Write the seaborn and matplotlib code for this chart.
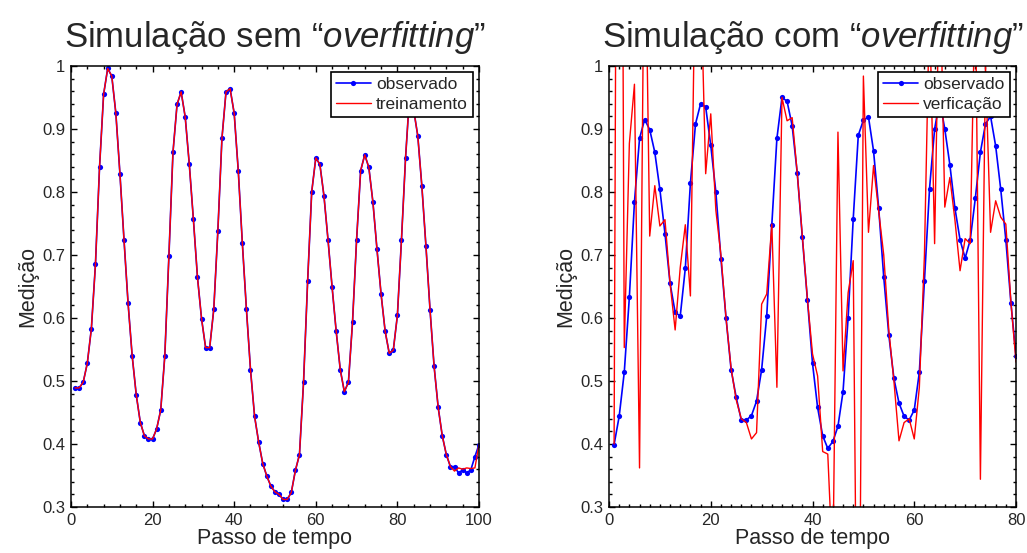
import matplotlib
matplotlib.use("Agg")
import matplotlib.pyplot as plt
import seaborn as sns
from matplotlib.ticker import MultipleLocator, FuncFormatter

# ---------------- data ----------------
passo_esq = list(range(1, 101))
observado_esq = [
    0.489, 0.489, 0.498, 0.528, 0.583, 0.685, 0.839, 0.955, 0.996, 0.984,
    0.925, 0.829, 0.724, 0.623, 0.540, 0.478, 0.434, 0.413, 0.408, 0.408,
    0.424, 0.454, 0.540, 0.698, 0.863, 0.939, 0.959, 0.919, 0.844, 0.757,
    0.665, 0.599, 0.553, 0.553, 0.614, 0.738, 0.885, 0.959, 0.964, 0.925,
    0.834, 0.719, 0.614, 0.518, 0.444, 0.403, 0.369, 0.349, 0.333, 0.324,
    0.320, 0.312, 0.312, 0.323, 0.358, 0.383, 0.498, 0.658, 0.800, 0.854,
    0.844, 0.794, 0.724, 0.649, 0.579, 0.518, 0.483, 0.498, 0.593, 0.724,
    0.834, 0.859, 0.839, 0.784, 0.709, 0.638, 0.579, 0.544, 0.549, 0.604,
    0.724, 0.854, 0.955, 0.930, 0.889, 0.809, 0.714, 0.613, 0.523, 0.458,
    0.413, 0.383, 0.364, 0.364, 0.354, 0.359, 0.354, 0.359, 0.380, 0.399,
]
treinamento = [
    0.489, 0.489, 0.498, 0.528, 0.583, 0.685, 0.839, 0.955, 0.996, 0.984,
    0.925, 0.829, 0.724, 0.623, 0.540, 0.478, 0.434, 0.413, 0.408, 0.408,
    0.424, 0.454, 0.540, 0.698, 0.863, 0.939, 0.959, 0.919, 0.844, 0.757,
    0.665, 0.599, 0.553, 0.553, 0.614, 0.738, 0.885, 0.959, 0.964, 0.925,
    0.834, 0.719, 0.614, 0.518, 0.444, 0.403, 0.369, 0.349, 0.333, 0.324,
    0.320, 0.312, 0.312, 0.323, 0.358, 0.383, 0.498, 0.658, 0.800, 0.854,
    0.844, 0.794, 0.724, 0.649, 0.579, 0.518, 0.483, 0.498, 0.593, 0.724,
    0.834, 0.859, 0.839, 0.784, 0.709, 0.638, 0.579, 0.544, 0.549, 0.604,
    0.724, 0.854, 0.955, 0.930, 0.889, 0.809, 0.714, 0.613, 0.523, 0.458,
    0.413, 0.383, 0.364, 0.357, 0.362, 0.360, 0.362, 0.361, 0.362, 0.399,
]

passo_dir = list(range(1, 81))
observado_dir = [
    0.399, 0.444, 0.514, 0.633, 0.784, 0.885, 0.915, 0.899, 0.863, 0.804,
    0.734, 0.655, 0.609, 0.603, 0.679, 0.814, 0.908, 0.940, 0.935, 0.874,
    0.800, 0.694, 0.600, 0.518, 0.474, 0.438, 0.438, 0.445, 0.468, 0.518,
    0.603, 0.748, 0.885, 0.950, 0.944, 0.905, 0.830, 0.728, 0.629, 0.528,
    0.458, 0.413, 0.393, 0.404, 0.428, 0.483, 0.600, 0.757, 0.890, 0.914,
    0.919, 0.865, 0.775, 0.665, 0.573, 0.504, 0.465, 0.444, 0.438, 0.454,
    0.514, 0.659, 0.805, 0.900, 0.945, 0.900, 0.843, 0.774, 0.724, 0.695,
    0.724, 0.790, 0.863, 0.908, 0.920, 0.873, 0.804, 0.724, 0.624, 0.539,
]
verificacao = [
    0.400, 2.500, 0.553, 0.877, 0.971, 0.362, 1.300, 0.730, 0.810, 0.746,
    0.756, 0.655, 0.581, 0.680, 0.748, 0.635, 1.200, 1.150, 0.829, 0.924,
    0.771, 0.700, 0.600, 0.520, 0.470, 0.440, 0.434, 0.408, 0.418, 0.622,
    0.638, 0.749, 0.490, 0.950, 0.913, 0.918, 0.830, 0.730, 0.630, 0.543,
    0.508, 0.388, 0.384, 0.200, 0.895, 0.516, 0.640, 0.691, -0.200, 0.984,
    0.736, 0.842, 0.770, 0.700, 0.580, 0.500, 0.405, 0.434, 0.440, 0.408,
    0.490, 0.700, 1.100, 0.718, 1.180, 0.776, 0.823, 0.755, 0.675, 0.726,
    0.718, 1.140, 0.344, 1.000, 0.736, 0.786, 0.760, 0.749, 0.625, 0.530,
]

titulos = ["Simulação sem “$\\mathit{overfitting}$”",
           "Simulação com “$\\mathit{overfitting}$”"]
rotulo_x = "Passo de tempo"
rotulo_y = "Medição"

# ---------------- style ----------------
sns.set_theme(style="ticks")
plt.rcParams["font.family"] = ["Liberation Sans", "DejaVu Sans"]
plt.rcParams["mathtext.fontset"] = "custom"
plt.rcParams["mathtext.rm"] = "Liberation Sans"
plt.rcParams["mathtext.it"] = "Liberation Sans:italic"
plt.rcParams["axes.linewidth"] = 1.1

fig = plt.figure(figsize=(10.27, 5.53), dpi=100)
ax1 = fig.add_axes([0.0691, 0.0832, 0.3973, 0.7975])
ax2 = fig.add_axes([0.5930, 0.0832, 0.3963, 0.7975])

def desenha(ax, x, obs, outro, rotulo_outro, xmax, minor_x, titulo):
    sns.lineplot(x=x, y=obs, ax=ax, color="#0000ff", linewidth=1.2,
                 marker=".", markersize=7.5, markeredgewidth=0,
                 label="observado", estimator=None, sort=False)
    sns.lineplot(x=x, y=outro, ax=ax, color="#ff0000", linewidth=1.0,
                 label=rotulo_outro, estimator=None, sort=False)
    ax.set_xlim(0, xmax)
    ax.set_ylim(0.3, 1.0)
    ax.xaxis.set_major_locator(MultipleLocator(20))
    ax.xaxis.set_minor_locator(MultipleLocator(minor_x))
    ax.yaxis.set_major_locator(MultipleLocator(0.1))
    ax.yaxis.set_minor_locator(MultipleLocator(0.02))
    ax.yaxis.set_major_formatter(FuncFormatter(lambda v, p: f"{v:g}"))
    ax.xaxis.set_major_formatter(FuncFormatter(lambda v, p: f"{v:g}"))
    ax.tick_params(which="both", direction="in", top=True, right=True,
                   color="black", labelsize=12, width=1.0)
    ax.tick_params(which="major", length=4, pad=4)
    ax.tick_params(which="minor", length=2.2)
    for s in ax.spines.values():
        s.set_color("black")
    ax.set_xlabel(rotulo_x, fontsize=15.5, labelpad=0)
    ax.set_ylabel(rotulo_y, fontsize=15.5, labelpad=3)
    ax.set_title(titulo, fontsize=25, pad=14)
    leg = ax.legend(loc="upper right", fontsize=12.5, frameon=True,
                    fancybox=False, framealpha=1, edgecolor="black",
                    borderaxespad=0.35, handlelength=2.0, handletextpad=0.3,
                    labelspacing=0.25, borderpad=0.3)
    leg.get_frame().set_linewidth(1.2)

desenha(ax1, passo_esq, observado_esq, treinamento, "treinamento", 100, 4, titulos[0])
desenha(ax2, passo_dir, observado_dir, verificacao, "verficação", 80, 2, titulos[1])

fig.savefig("out.png", dpi=100, facecolor="white")
